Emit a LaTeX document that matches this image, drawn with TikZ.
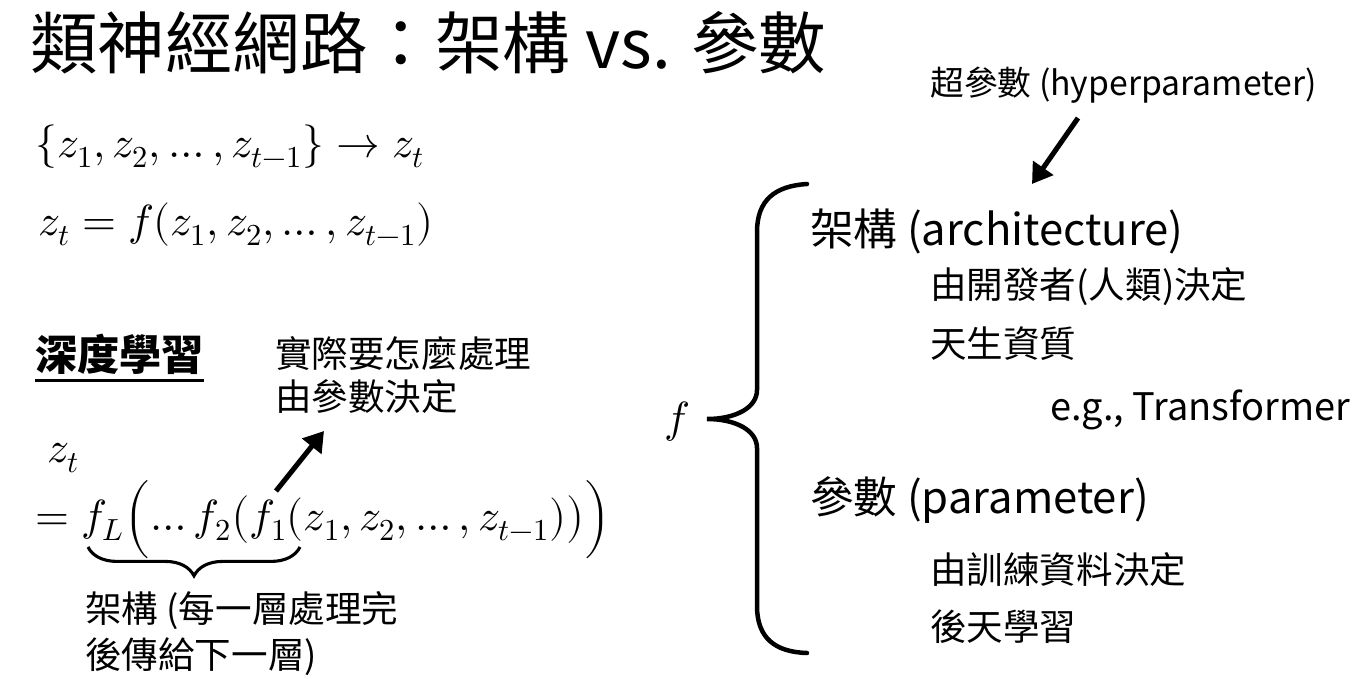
\documentclass[tikz,border=0pt]{standalone}
\usepackage{fontspec}
\usepackage{unicode-math}
\setmainfont{Noto Sans CJK TC}
\setmathfont{Latin Modern Math}
\usetikzlibrary{arrows.meta,decorations.pathreplacing}
\tikzset{
  txt/.style={anchor=base west, inner sep=0pt, font=\fontsize{26}{32}\selectfont},
  bigtxt/.style={txt, font=\fontsize{31}{38}\selectfont},
  hyptxt/.style={txt, font=\fontsize{24}{28}\selectfont},
  mathtxt/.style={txt, font=\fontsize{31}{36}\selectfont},
  thickarrow/.style={line width=3.6pt, -{Triangle[length=14pt,width=17pt]}},
  bracepath/.style={line width=3.2pt, line cap=round},
}
\begin{document}
\begin{tikzpicture}[x=0.025cm, y=-0.025cm]
			%%%%% START %%%%%
			\useasboundingbox (0,0) rectangle (1355,678);
			
			\node[txt, font=\fontsize{48}{56}\selectfont] (title) at (30,68) {類神經網路：架構 vs. 參數};
			
			\node[mathtxt] (seq) at (35,157) {$\{z_1,z_2,\dots,z_{t-1}\}\rightarrow z_t$};
			\node[mathtxt] (fdef) at (38,235) {$z_t=f(z_1,z_2,\dots,z_{t-1})$};
			
			\node[txt, font=\fontsize{30}{36}\selectfont\bfseries] (dl) at (35,370) {深度學習};
			\draw[line width=2pt] (dl.south west) ++(0,6) coordinate (ulA) -- (ulA -| dl.east);
			
			\node[txt] (how1) at (275,367) {實際要怎麼處理};
			\node[txt] (how2) at (275,410) {由參數決定};
			
			\node[mathtxt] (zt) at (47,462) {$z_t$};
			\node[mathtxt] (layers) at (35,530) {$= f_L\Bigl(\dots f_2\bigl(f_1(z_1,z_2,\dots,z_{t-1})\bigr)\Bigr)$};
			
			\coordinate (ubL) at (88,547);
			\coordinate (ubR) at (300,547);
			\draw[line width=2.2pt, decorate, decoration={brace, mirror, amplitude=0.72cm, aspect=0.5}] (ubL) -- (ubR);
			
			\node[txt] (arch1) at (85,622) {架構 (每一層處理完};
			\node[txt] (arch2) at (85,668) {後傳給下一層)};
			
			\coordinate (howTail) at (276,491);
			\coordinate (howHead) at (324,431);
			\draw[thickarrow] (howTail) -- (howHead);
			
			% big brace
			\node[mathtxt] (f) at (664,432) {$f$};
			\draw[bracepath] (807,184) .. controls (775,186) and (757,200) .. (757,232)
				-- (757,390) .. controls (757,408) and (735,419) .. (707,419)
				.. controls (735,419) and (757,430) .. (757,448)
				-- (757,606) .. controls (757,638) and (775,652) .. (807,653);
			
			\node[hyptxt] (hyper) at (930,95) {超參數 (hyperparameter)};
			\coordinate (hypTail) at (1078,118);
			\coordinate (hypHead) at (1032,184);
			\draw[thickarrow] (hypTail) -- (hypHead);
			
			\node[bigtxt] (arch) at (810,245) {架構 (architecture)};
			\node[txt] (dev) at (930,298) {由開發者(人類)決定};
			\node[txt] (innate) at (930,357) {天生資質};
			\node[txt, font=\fontsize{27}{32}\selectfont] (eg) at (1050,420) {e.g., Transformer};
			
			\node[bigtxt] (param) at (810,513) {參數 (parameter)};
			\node[txt] (data) at (930,583) {由訓練資料決定};
			\node[txt] (learn) at (930,640) {後天學習};
			
			%%%%% END %%%%%
\end{tikzpicture}
\end{document}
